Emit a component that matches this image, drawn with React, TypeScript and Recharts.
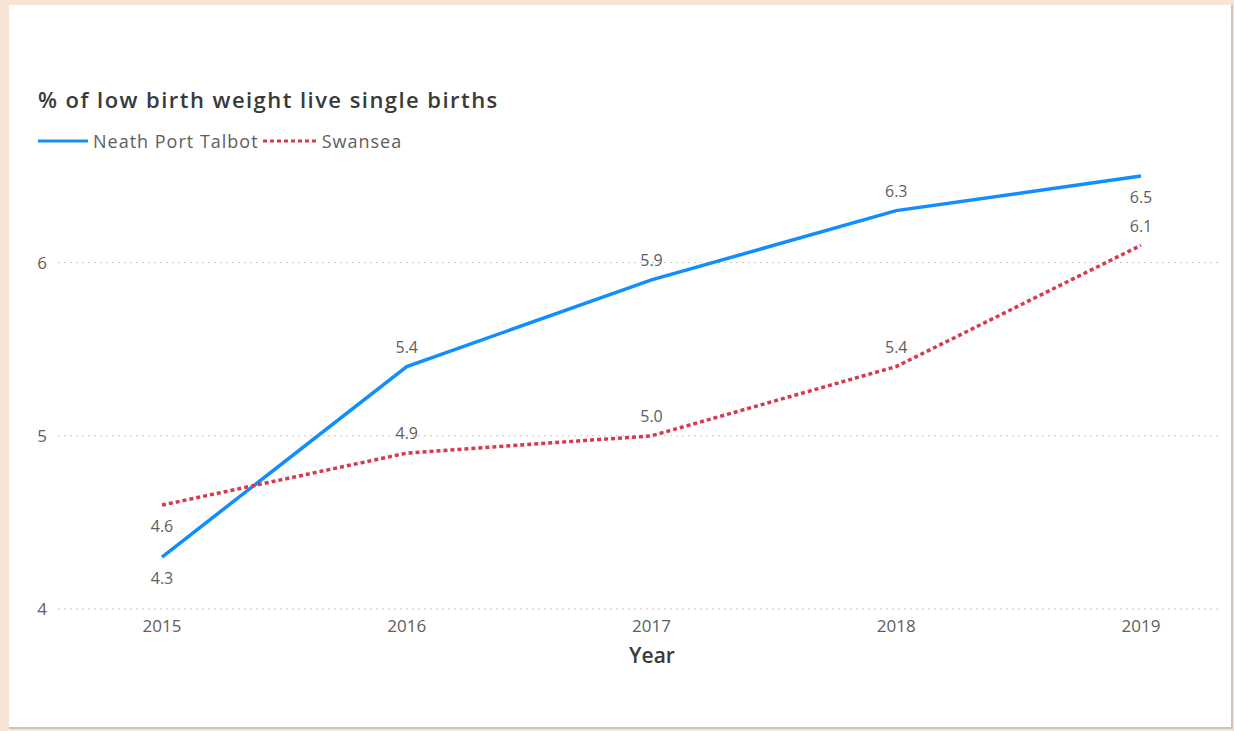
import React from "react";
import {
  LineChart,
  Line,
  XAxis,
  YAxis,
  ReferenceLine,
  LabelList,
} from "recharts";

const years = ["2015", "2016", "2017", "2018", "2019"];
const neathPortTalbot = [4.3, 5.4, 5.9, 6.3, 6.5];
const swansea = [4.6, 4.9, 5.0, 5.4, 6.1];
const yTicks = [4, 5, 6];

// label sits above the point unless flagged below
const nptBelow = [true, false, false, false, true];
const swanseaBelow = [true, false, false, false, false];

const chartData = years.map((year, i) => ({
  year,
  npt: neathPortTalbot[i],
  swansea: swansea[i],
}));

const FONT = "'Open Sans', 'Noto Sans', sans-serif";
const BLUE = "#118DFF";
const RED = "#D9394E";
const GREY = "#605E5C";

const makeLabel = (below: boolean[]) => (props: any) => {
  const { x, y, value, index } = props;
  const isBelow = below[index];
  return (
    <text
      x={x}
      y={isBelow ? y + 23 : y - 18}
      textAnchor="middle"
      dominantBaseline="middle"
      fill={GREY}
      fontSize={16}
      fontFamily={FONT}
    >
      {Number(value).toFixed(1)}
    </text>
  );
};

const App: React.FC = () => {
  return (
    <div
      style={{
        position: "fixed",
        left: 0,
        top: 0,
        width: 1234,
        height: 731,
        background: "#F8E4D6",
        fontFamily: FONT,
      }}
    >
      <div
        style={{
          position: "absolute",
          left: 9,
          top: 5,
          width: 1222,
          height: 722,
          background: "#ffffff",
          borderRight: "2px solid #C8C6C4",
          borderBottom: "2px solid #C8C6C4",
        }}
      />
      <div
        style={{
          position: "absolute",
          left: 38,
          top: 84,
          fontSize: 22,
          fontWeight: 600,
          letterSpacing: 1.45,
          color: "#3A3A3A",
          whiteSpace: "nowrap",
        }}
      >
        % of low birth weight live single births
      </div>
      <div
        style={{
          position: "absolute",
          left: 38,
          top: 129,
          display: "flex",
          alignItems: "center",
          fontSize: 18,
          letterSpacing: 1,
          color: GREY,
          whiteSpace: "nowrap",
        }}
      >
        <svg width={50} height={6} style={{ marginRight: 5 }}>
          <line x1={0} y1={3} x2={50} y2={3} stroke={BLUE} strokeWidth={3} />
        </svg>
        <span>Neath Port Talbot</span>
        <svg width={54} height={6} style={{ marginLeft: 4, marginRight: 5 }}>
          <line
            x1={0}
            y1={3}
            x2={54}
            y2={3}
            stroke={RED}
            strokeWidth={3}
            strokeDasharray="4 3"
          />
        </svg>
        <span>Swansea</span>
      </div>
      <div style={{ position: "absolute", left: 0, top: 0 }}>
        <LineChart
          width={1234}
          height={731}
          data={chartData}
          margin={{ top: 176, right: 16, bottom: 92, left: 38 }}
        >
          {yTicks.map((t) => (
            <ReferenceLine
              key={t}
              y={t}
              stroke="#C8C6C4"
              strokeDasharray="2 4"
              ifOverflow="extendDomain"
            />
          ))}
          <XAxis
            dataKey="year"
            axisLine={false}
            tickLine={false}
            tickSize={0}
            tickMargin={11}
            padding={{ left: 104, right: 77 }}
            tick={{ fill: GREY, fontSize: 17, fontFamily: FONT }}
            height={30}
          />
          <YAxis
            domain={[4, 6.5]}
            ticks={yTicks}
            axisLine={false}
            tickLine={false}
            tickSize={0}
            tickMargin={11}
            width={20}
            tick={{ fill: GREY, fontSize: 17, fontFamily: FONT }}
          />
          <Line
            dataKey="npt"
            stroke={BLUE}
            strokeWidth={3.5}
            dot={false}
            activeDot={false}
            isAnimationActive={false}
          >
            <LabelList dataKey="npt" content={makeLabel(nptBelow)} />
          </Line>
          <Line
            dataKey="swansea"
            stroke={RED}
            strokeWidth={3.5}
            strokeDasharray="4 3"
            dot={false}
            activeDot={false}
            isAnimationActive={false}
          >
            <LabelList dataKey="swansea" content={makeLabel(swanseaBelow)} />
          </Line>
        </LineChart>
      </div>
      <div
        style={{
          position: "absolute",
          left: 652,
          top: 641,
          transform: "translateX(-50%)",
          fontSize: 21,
          fontWeight: 600,
          color: "#3A3A3A",
        }}
      >
        Year
      </div>
    </div>
  );
};

export default App;
